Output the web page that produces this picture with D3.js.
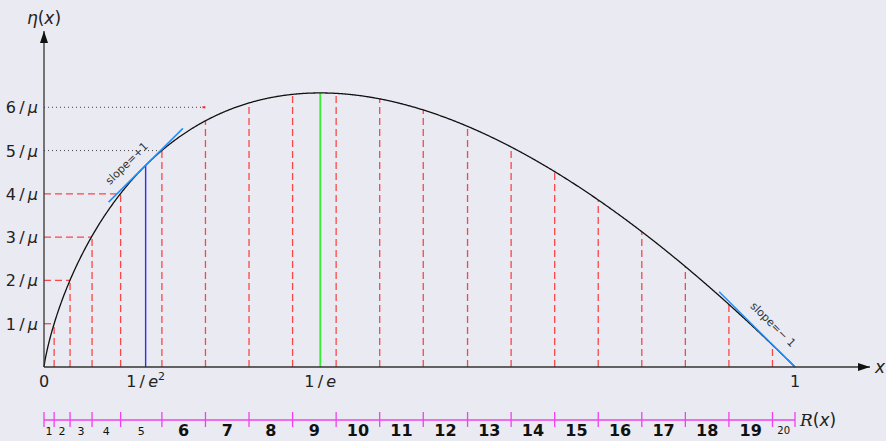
<!DOCTYPE html>
<html>
<head>
<meta charset="UTF-8">
<title>eta(x) partition</title>
<script src="https://d3js.org/d3.v7.min.js"></script>
<style>
  body { margin: 0; background: #eaeaf2; }
  svg { display: block; }
  .tick-lab { font-family: "DejaVu Sans", sans-serif; font-size: 16px; fill: #222; }
  .slope { font-family: "DejaVu Sans", sans-serif; font-size: 11px; fill: #333; }
  .rlab { font-family: "DejaVu Sans", sans-serif; fill: #111; }
</style>
</head>
<body>
<div id="chart"></div>
<script>
const invMu = 0.0581;
const yLevels = [1, 2, 3, 4, 5, 6];               // k/mu ticks
const cuts = [0.0135, 0.0347, 0.064, 0.102, 0.157, 0.215, 0.273, 0.331, 0.389,
              0.447, 0.505, 0.564, 0.622, 0.680, 0.738, 0.796, 0.854, 0.912, 0.970];
const intervalLabels = d3.range(1, 21);
const xTickVals = [0, Math.exp(-2), Math.exp(-1), 1];
const xTickNames = ["0", "1/e²", "1/e", "1"];

const eta = x => x <= 0 ? 0 : -x * Math.log(x);

const W = 886, H = 441;
const svg = d3.select("#chart").append("svg").attr("width", W).attr("height", H);

const x = d3.scaleLinear().domain([0, 1]).range([44, 795]);
const y = d3.scaleLinear().domain([0, 0.4]).range([367, 69]);

const defs = svg.append("defs");
defs.append("marker").attr("id", "arr")
  .attr("viewBox", "0 0 12 8").attr("refX", 12).attr("refY", 4)
  .attr("markerWidth", 12).attr("markerHeight", 8)
  .attr("markerUnits", "userSpaceOnUse").attr("orient", "auto")
  .append("path").attr("d", "M0,0 L12,4 L0,8 Z").attr("fill", "#111");

const g = svg.append("g");

// vertical dashed cuts up to the curve
g.selectAll("line.cut").data(cuts).join("line")
  .attr("x1", d => x(d)).attr("x2", d => x(d))
  .attr("y1", y(0)).attr("y2", d => y(eta(d)))
  .attr("stroke", "#ff2a2a").attr("stroke-width", 1.3)
  .attr("stroke-dasharray", "7,4").attr("opacity", 0.85);

// horizontal red dashes at 1..4 / mu
g.selectAll("line.hl").data(yLevels.slice(0, 4)).join("line")
  .attr("x1", x(0)).attr("x2", (d, i) => x(cuts[i]))
  .attr("y1", d => y(d * invMu)).attr("y2", d => y(d * invMu))
  .attr("stroke", "#ff2a2a").attr("stroke-width", 1.3)
  .attr("stroke-dasharray", "7,4").attr("opacity", 0.85);

// dotted guides at 5/mu and 6/mu
g.selectAll("line.dot").data(yLevels.slice(4)).join("line")
  .attr("x1", x(0)).attr("x2", (d, i) => x(cuts[4 + i]))
  .attr("y1", d => y(d * invMu)).attr("y2", d => y(d * invMu))
  .attr("stroke", "#444").attr("stroke-width", 1)
  .attr("stroke-dasharray", "1,3");
g.append("line")
  .attr("x1", x(cuts[5]) - 3).attr("x2", x(cuts[5]))
  .attr("y1", y(6 * invMu)).attr("y2", y(6 * invMu))
  .attr("stroke", "#ff2a2a").attr("stroke-width", 2);

// verticals at 1/e^2 and 1/e
g.append("line")
  .attr("x1", x(Math.exp(-2))).attr("x2", x(Math.exp(-2)))
  .attr("y1", y(0)).attr("y2", y(eta(Math.exp(-2))))
  .attr("stroke", "#2b2bff").attr("stroke-width", 1.4);
g.append("line")
  .attr("x1", x(Math.exp(-1))).attr("x2", x(Math.exp(-1)))
  .attr("y1", y(0)).attr("y2", y(eta(Math.exp(-1))))
  .attr("stroke", "#33ee33").attr("stroke-width", 1.8);

// curve
const line = d3.line().x(d => x(d)).y(d => y(eta(d)));
const xs = d3.range(0, 1.0001, 0.001);
g.append("path").datum(xs).attr("d", line)
  .attr("fill", "none").attr("stroke", "#111").attr("stroke-width", 1.3);

// tangents: slope +1 at 1/e^2, slope -1 at 1
const tangents = [
  { x0: Math.exp(-2), s: 1, from: 0.086, to: 0.185, lab: "slope=+1", at: 0.124, off: -11 },
  { x0: 1, s: -1, from: 0.899, to: 1.0, lab: "slope=\u2212 1", at: 0.957, off: -11 }
];
tangents.forEach(t => {
  const f = v => eta(t.x0) + t.s * (v - t.x0);
  g.append("line")
    .attr("x1", x(t.from)).attr("y1", y(f(t.from)))
    .attr("x2", x(t.to)).attr("y2", y(f(t.to)))
    .attr("stroke", "#1e8fff").attr("stroke-width", 1.5);
  const px = x(t.at), py = y(f(t.at));
  const ang = Math.atan2(y(f(t.at + 0.01)) - py, x(t.at + 0.01) - px) * 180 / Math.PI;
  g.append("text").attr("class", "slope")
    .attr("transform", `translate(${px},${py}) rotate(${ang}) translate(0,${t.off})`)
    .attr("text-anchor", "middle").text(t.lab);
});

// axes with arrows
g.append("line").attr("x1", x(0)).attr("y1", y(0)).attr("x2", 870).attr("y2", y(0))
  .attr("stroke", "#333").attr("stroke-width", 1.3).attr("marker-end", "url(#arr)");
g.append("line").attr("x1", x(0)).attr("y1", y(0)).attr("x2", x(0)).attr("y2", 31)
  .attr("stroke", "#333").attr("stroke-width", 1.3).attr("marker-end", "url(#arr)");

const axLab = g.append("text").attr("class", "tick-lab").attr("x", 44).attr("y", 24)
  .attr("text-anchor", "middle").style("font-size", "17px");
axLab.append("tspan").style("font-style", "italic").text("η");
axLab.append("tspan").text("(");
axLab.append("tspan").style("font-style", "italic").text("x");
axLab.append("tspan").text(")");
g.append("text").attr("class", "tick-lab").attr("x", 880).attr("y", 373)
  .attr("text-anchor", "middle").style("font-style", "italic").style("font-size", "17px").text("x");

// y tick labels
const yl = g.selectAll("text.yl").data(yLevels).join("text")
  .attr("class", "tick-lab yl").attr("x", 38).attr("y", d => y(d * invMu) + 6)
  .attr("text-anchor", "end");
yl.append("tspan").text(d => d + "\u2009/\u2009");
yl.append("tspan").style("font-style", "italic").text("μ");

// x tick labels
xTickVals.forEach((v, i) => {
  const t = g.append("text").attr("class", "tick-lab").attr("x", x(v)).attr("y", 387)
    .attr("text-anchor", "middle");
  const name = xTickNames[i];
  if (name.startsWith("1/e")) {
    t.append("tspan").text("1\u2009/\u2009");
    t.append("tspan").style("font-style", "italic").text("e");
    if (name.endsWith("²")) t.append("tspan").attr("dy", -7).style("font-size", "11px").text("2");
  } else {
    t.text(name);
  }
});

// R(x) axis
const rY = 420;
const bounds = [0].concat(cuts, [1]);
const rg = svg.append("g");
rg.append("line").attr("x1", x(0)).attr("x2", x(1)).attr("y1", rY).attr("y2", rY)
  .attr("stroke", "#f040f0").attr("stroke-width", 1.6);
rg.selectAll("line.rt").data(bounds).join("line")
  .attr("x1", d => x(d)).attr("x2", d => x(d)).attr("y1", rY - 8).attr("y2", rY + 7)
  .attr("stroke", "#f040f0").attr("stroke-width", 1.3);
rg.selectAll("text.rl").data(intervalLabels).join("text")
  .attr("class", "rlab")
  .attr("x", (d, i) => (x(bounds[i]) + x(bounds[i + 1])) / 2)
  .attr("y", d => d <= 5 ? 435 : d === 20 ? 434 : 436)
  .attr("text-anchor", "middle")
  .style("font-size", d => d <= 5 ? "11px" : d === 20 ? "10px" : "16px")
  .style("font-weight", d => d <= 5 || d === 20 ? "normal" : "bold")
  .text(d => d);
const rl = rg.append("text").attr("class", "tick-lab").attr("x", 800).attr("y", rY + 6)
  .style("font-size", "17px");
rl.append("tspan").style("font-family", "'DejaVu Serif', serif").style("font-style", "italic").text("R");
rl.append("tspan").text("(");
rl.append("tspan").style("font-style", "italic").text("x");
rl.append("tspan").text(")");
</script>
</body>
</html>
